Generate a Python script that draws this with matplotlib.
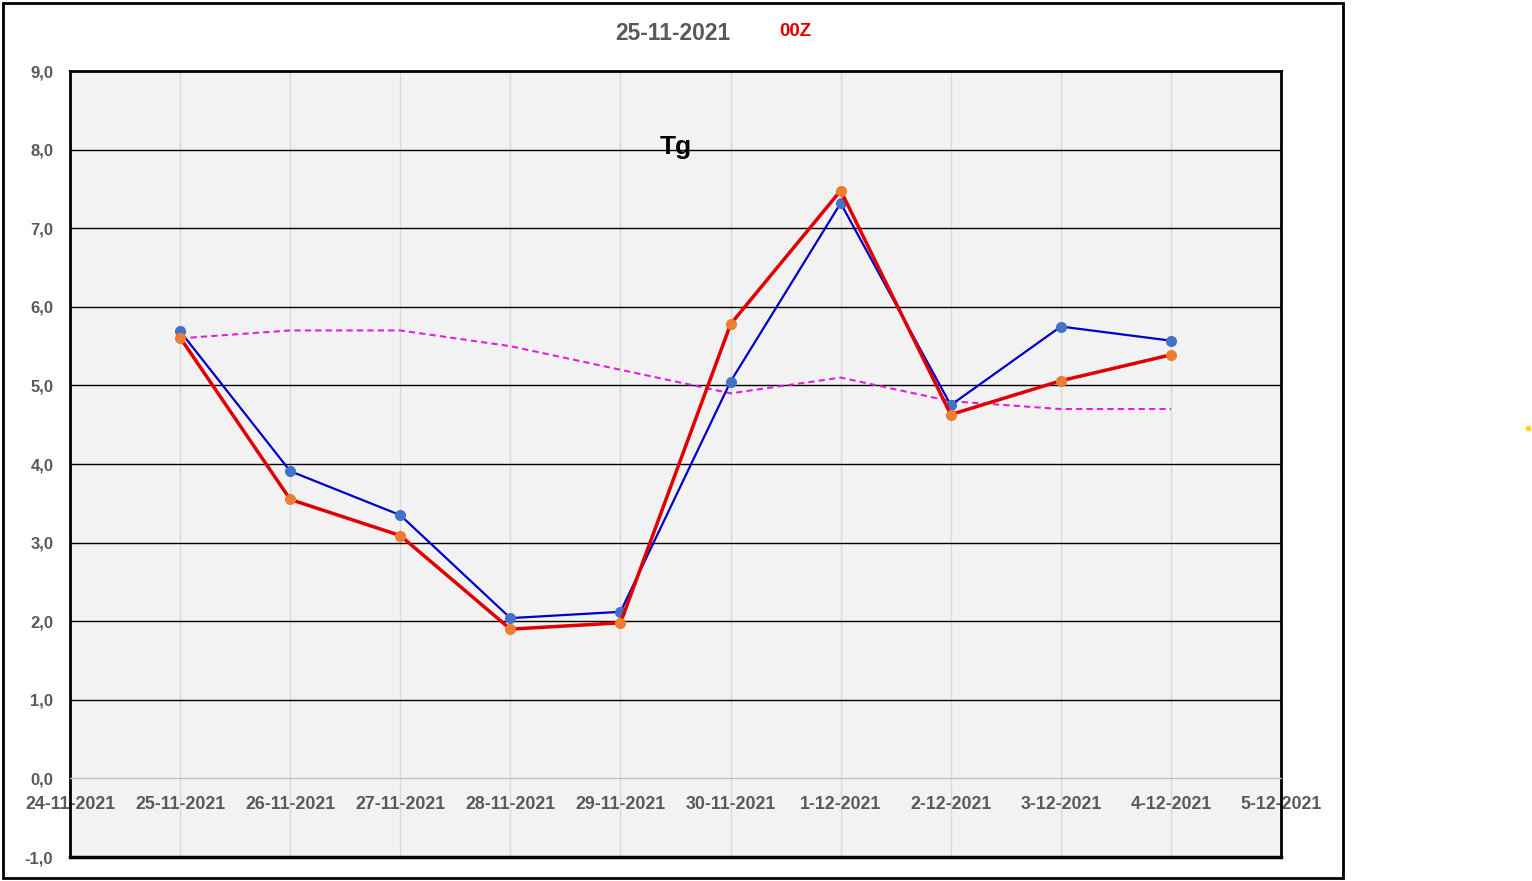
import matplotlib.pyplot as plt
import matplotlib.dates as mdates
from matplotlib.ticker import FuncFormatter, MultipleLocator
from matplotlib.patches import Rectangle
import pandas as pd

dates = ["2021-11-25", "2021-11-26", "2021-11-27", "2021-11-28", "2021-11-29",
         "2021-11-30", "2021-12-01", "2021-12-02", "2021-12-03", "2021-12-04"]
blue_vals = [5.69, 3.91, 3.35, 2.04, 2.12, 5.05, 7.32, 4.75, 5.75, 5.57]
red_vals = [5.61, 3.55, 3.09, 1.90, 1.98, 5.78, 7.48, 4.63, 5.06, 5.39]
clim_vals = [5.6, 5.7, 5.7, 5.5, 5.2, 4.9, 5.1, 4.8, 4.7, 4.7]
x_start, x_end = "2021-11-24", "2021-12-05"

x = pd.to_datetime(dates)
gray = "#595959"
plt.rcParams['font.family'] = ['Liberation Sans', 'DejaVu Sans']

fig = plt.figure(figsize=(15.32, 8.81), dpi=100)
ax = fig.add_axes([0.0457, 0.0272, 0.7905, 0.8921])
ax.set_facecolor("#f2f2f2")

x0, x1 = pd.Timestamp(x_start), pd.Timestamp(x_end)
ax.set_xlim(x0, x1)
ax.set_ylim(-1, 9)

# grid
for d in pd.date_range(x0, x1, freq="D"):
    ax.axvline(d, color="#d9d9d9", lw=1, zorder=1)
for yv in range(1, 9):
    ax.axhline(yv, color="black", lw=1, zorder=1)

ax.plot(x, clim_vals, color="#e020e0", lw=1.5, ls=(0, (3, 2)), zorder=3)
ax.plot(x, blue_vals, color="#0000cc", lw=1.6, marker="o", markersize=7,
        markerfacecolor="#4472c4", markeredgecolor="#4472c4", zorder=4)
ax.plot(x, red_vals, color="#e00000", lw=2.5, marker="o", markersize=7,
        markerfacecolor="#ed7d31", markeredgecolor="#ed7d31", zorder=5)

# x axis crosses at 0
ax.spines['bottom'].set_position(('data', 0))
ax.spines['bottom'].set_color("#bfbfbf")
ax.spines['bottom'].set_linewidth(1)
for s in ['top', 'left', 'right']:
    ax.spines[s].set_linewidth(2)
    ax.spines[s].set_color("black")
ax.axhline(-1, color="black", lw=2.5, clip_on=False, zorder=6)

ax.xaxis.set_major_locator(mdates.DayLocator())
ax.xaxis.set_major_formatter(FuncFormatter(
    lambda v, p: "{}-{}-{}".format(mdates.num2date(v).day, mdates.num2date(v).month,
                                   mdates.num2date(v).year)))
ax.yaxis.set_major_locator(MultipleLocator(1))
ax.yaxis.set_major_formatter(FuncFormatter(lambda v, p: f"{v:.1f}".replace(".", ",")))
ax.tick_params(axis='x', length=0, pad=13, labelsize=12.8, labelcolor=gray)
ax.tick_params(axis='y', length=0, pad=12, labelsize=12, labelcolor=gray)
for lab in ax.get_xticklabels() + ax.get_yticklabels():
    lab.set_fontweight("bold")

ax.text(0.5, 0.903, "Tg", transform=ax.transAxes, ha="center", va="center",
        fontsize=19, fontweight="bold", color="black")

fig.text(673 / 1532, 1 - 33 / 881, "25-11-2021", ha="center", va="center",
         fontsize=16.5, fontweight="bold", color=gray)
fig.text(795 / 1532, 1 - 32 / 881, "00Z", ha="center", va="center",
         fontsize=13.5, fontweight="bold", color="#e00000")

fig.patches.append(Rectangle((3 / 1532, 3 / 881), 1340 / 1532, 875 / 881,
                             transform=fig.transFigure, fill=False,
                             edgecolor="black", lw=2))
fig.add_artist(plt.Line2D([1528 / 1532], [1 - 428 / 881], marker="o", markersize=3,
                          color="#ffd700", transform=fig.transFigure))

fig.savefig("out.png", dpi=100)
